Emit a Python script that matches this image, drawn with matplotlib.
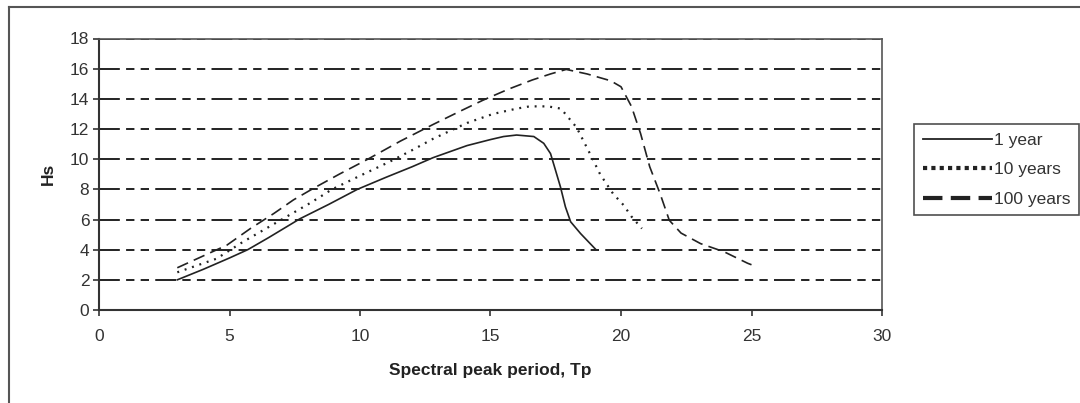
import matplotlib
matplotlib.use("Agg")
import matplotlib.pyplot as plt
from matplotlib.lines import Line2D

plt.rcParams['font.family'] = ['Liberation Sans', 'DejaVu Sans']
plt.rcParams['lines.scale_dashes'] = False

# Significant wave height Hs against spectral peak period Tp
tp_1yr = [3.0, 4.0, 5.0, 5.7, 6.5, 7.7, 8.8, 9.9, 11.0, 12.0, 12.8, 14.1, 15.0,
          15.5, 16.0, 16.66, 17.04, 17.3, 17.49, 17.68, 17.87, 18.07, 18.45, 19.03]
hs_1yr = [2.0, 2.7, 3.45, 4.0, 4.8, 6.05, 7.0, 8.0, 8.8, 9.5, 10.1, 10.9, 11.3,
          11.5, 11.6, 11.5, 11.05, 10.37, 9.27, 8.16, 6.84, 5.85, 5.07, 4.02]

tp_10yr = [3.0, 4.5, 5.5, 6.4, 7.2, 8.1, 8.93, 10.0, 11.1, 12.0, 12.8, 14.1, 15.1,
           16.0, 16.5, 17.2, 17.7, 18.3, 18.8, 19.2, 19.7, 20.1, 20.4, 20.8]
hs_10yr = [2.5, 3.4, 4.5, 5.4, 6.2, 7.1, 8.0, 8.9, 9.8, 10.6, 11.35, 12.4, 13.0,
           13.35, 13.5, 13.5, 13.35, 12.1, 10.4, 9.0, 7.7, 6.95, 6.2, 5.4]

tp_100yr = [3.0, 4.9, 5.8, 6.7, 7.45, 8.2, 9.2, 10.3, 11.55, 12.8, 13.8, 14.7,
            15.7, 16.6, 17.3, 17.9, 18.7, 19.6, 20.0, 20.4, 20.75, 21.1, 21.5,
            21.85, 22.3, 23.05, 23.95, 24.85, 25.0]
hs_100yr = [2.8, 4.3, 5.4, 6.4, 7.3, 8.05, 9.0, 10.0, 11.2, 12.3, 13.15, 13.9,
            14.65, 15.25, 15.65, 15.95, 15.65, 15.2, 14.8, 13.5, 11.7, 9.5, 7.7,
            5.95, 5.1, 4.4, 3.86, 3.1, 3.0]

x_ticks = [0, 5, 10, 15, 20, 25, 30]
y_ticks = [0, 2, 4, 6, 8, 10, 12, 14, 16, 18]

W, H = 1080, 403
fig = plt.figure(figsize=(W / 100, H / 100), dpi=100)
ax = fig.add_axes([99 / W, 1 - 310 / H, (882 - 99) / W, (310 - 38.5) / H])

ink = '#222222'
ax.plot(tp_1yr, hs_1yr, color=ink, lw=1.2, ls='-', label='1 year')
ax.plot(tp_10yr, hs_10yr, color=ink, lw=1.6, ls=(0, (1.4, 4.2)), label='10 years')
ax.plot(tp_100yr, hs_100yr, color=ink, lw=1.2, ls=(0, (8.5, 4.5)), label='100 years')

ax.set_xlim(0, 30)
ax.set_ylim(0, 18)
ax.set_xticks(x_ticks)
ax.set_yticks(y_ticks)

ax.yaxis.grid(True, color=ink, lw=1.4, ls=(0, (15, 4.5, 6, 4.5, 6, 4.5)))
ax.set_axisbelow(True)

for side in ['left', 'bottom']:
    ax.spines[side].set_linewidth(1.5)
    ax.spines[side].set_color('#333333')
for side in ['top', 'right']:
    ax.spines[side].set_linewidth(1.2)
    ax.spines[side].set_color('#555555')

ax.tick_params(axis='both', direction='out', length=4, width=1.2,
               colors='#333333', labelsize=12.5, labelcolor='#333333')
ax.tick_params(axis='x', pad=10)
ax.tick_params(axis='y', pad=3)

ax.set_xlabel('Spectral peak period, Tp', fontsize=12.5, fontweight='bold',
              color='#222222', labelpad=13)
ax.set_ylabel('Hs', fontsize=12.5, fontweight='bold', color='#222222', labelpad=10)

# Legend with heavier sample lines
handles = [Line2D([], [], color=ink, lw=1.3, ls='-'),
           Line2D([], [], color=ink, lw=3.0, ls=(0, (3, 3))),
           Line2D([], [], color=ink, lw=3.0, ls=(0, (14, 6)))]
leg = fig.legend(handles, ['1 year', '10 years', '100 years'],
                 loc='upper left', bbox_to_anchor=(914 / W, 1 - 124 / H),
                 borderaxespad=0, frameon=True, fancybox=False,
                 fontsize=12.5, handlelength=4.0, handletextpad=0.1,
                 labelspacing=0.82, borderpad=0.5)
leg.get_frame().set_edgecolor('#222222')
leg.get_frame().set_linewidth(1.2)
for t in leg.get_texts():
    t.set_color('#333333')

# Outer chart frame
fig.add_artist(Line2D([8.5 / W, 8.5 / W], [0, 1 - 6.5 / H], color='#555555', lw=1.5,
                      transform=fig.transFigure))
fig.add_artist(Line2D([8.5 / W, 1], [1 - 6.5 / H, 1 - 6.5 / H], color='#555555', lw=1.5,
                      transform=fig.transFigure))

fig.savefig('out.png', dpi=100)
